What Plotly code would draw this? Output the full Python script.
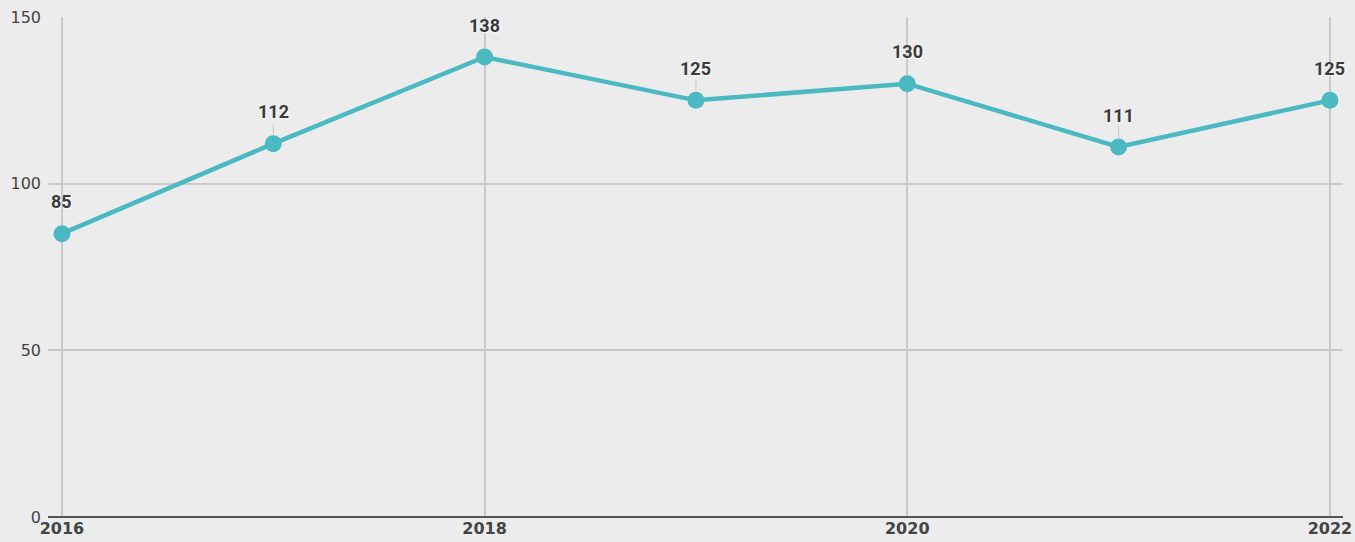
import plotly.graph_objects as go

# yearly values
years = [2016, 2017, 2018, 2019, 2020, 2021, 2022]
values = [85, 112, 138, 125, 130, 111, 125]
x_ticks = [2016, 2018, 2020, 2022]
y_ticks = [0, 50, 100, 150]

LINE = "#4bb9c2"

fig = go.Figure()

fig.add_trace(go.Scatter(
    x=years, y=values,
    mode="lines+markers",
    line=dict(color=LINE, width=4.5),
    marker=dict(color=LINE, size=17),
    hoverinfo="x+y",
    showlegend=False,
))

# value labels with thin leader lines
for x, y in zip(years, values):
    fig.add_annotation(
        x=x, y=y, text=f"<b>{y}</b>",
        showarrow=True, arrowhead=0, arrowwidth=1, arrowcolor="#c8c8c8",
        ax=0, ay=-32, standoff=8,
        yanchor="middle",
        font=dict(family="Roboto", size=18, color="#3a3a3a",
                  shadow="1px 1px 2px #ffffff"),
    )

fig.update_layout(
    width=1355, height=542,
    margin=dict(l=48, r=12, t=17, b=25),
    paper_bgcolor="#ececec",
    plot_bgcolor="#ececec",
    xaxis=dict(
        range=[2015.934, 2022.062],
        tickvals=x_ticks, ticktext=[str(v) for v in x_ticks],
        showgrid=True, gridcolor="#c9c9c9", gridwidth=1.5,
        zeroline=False, showline=False, automargin=False,
        tickfont=dict(family="DejaVu Sans", size=16, color="#444444", weight="bold"),
        ticklabelstandoff=0,
    ),
    yaxis=dict(
        range=[0, 150],
        tickvals=y_ticks,
        showgrid=True, gridcolor="#c9c9c9", gridwidth=1.5,
        zeroline=True, zerolinecolor="#555555", zerolinewidth=2,
        showline=False, automargin=False,
        tickfont=dict(family="DejaVu Sans", size=16, color="#444444"),
        ticklabelstandoff=6,
    ),
)

# drop the default page margin so the figure sits at the window corner
fig.write_html("out.html", config={"displayModeBar": False},
               post_script="document.body.style.margin='0';")
